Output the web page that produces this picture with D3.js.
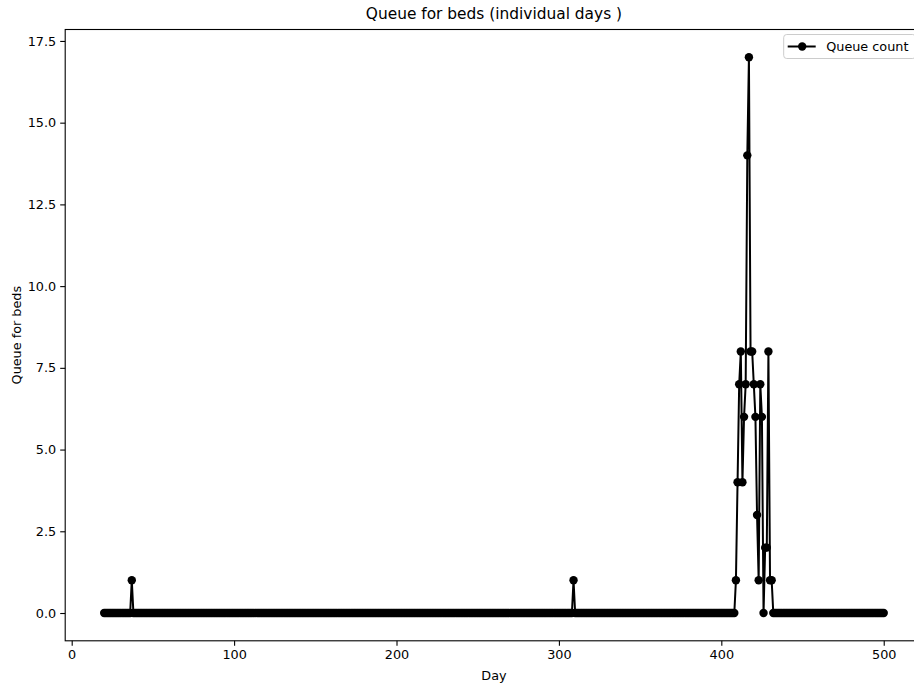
<!DOCTYPE html>
<html>
<head>
<meta charset="utf-8">
<script src="https://cdn.jsdelivr.net/npm/d3@7"></script>
<style>
	body { margin: 0; background: #fff; }
	text { font-family: "DejaVu Sans", sans-serif; fill: #000; }
</style>
</head>
<body>
<svg id="chart"></svg>
<script>
// queue count per day, first value is day 20, last is day 500
var firstDay = 20;
var queueCount = [
	0,0,0,0,0,0,0,0,0,0,0,0,0,0,0,0,0,1,0,0, // 20
	0,0,0,0,0,0,0,0,0,0,0,0,0,0,0,0,0,0,0,0, // 40
	0,0,0,0,0,0,0,0,0,0,0,0,0,0,0,0,0,0,0,0, // 60
	0,0,0,0,0,0,0,0,0,0,0,0,0,0,0,0,0,0,0,0, // 80
	0,0,0,0,0,0,0,0,0,0,0,0,0,0,0,0,0,0,0,0, // 100
	0,0,0,0,0,0,0,0,0,0,0,0,0,0,0,0,0,0,0,0, // 120
	0,0,0,0,0,0,0,0,0,0,0,0,0,0,0,0,0,0,0,0, // 140
	0,0,0,0,0,0,0,0,0,0,0,0,0,0,0,0,0,0,0,0, // 160
	0,0,0,0,0,0,0,0,0,0,0,0,0,0,0,0,0,0,0,0, // 180
	0,0,0,0,0,0,0,0,0,0,0,0,0,0,0,0,0,0,0,0, // 200
	0,0,0,0,0,0,0,0,0,0,0,0,0,0,0,0,0,0,0,0, // 220
	0,0,0,0,0,0,0,0,0,0,0,0,0,0,0,0,0,0,0,0, // 240
	0,0,0,0,0,0,0,0,0,0,0,0,0,0,0,0,0,0,0,0, // 260
	0,0,0,0,0,0,0,0,0,0,0,0,0,0,0,0,0,0,0,0, // 280
	0,0,0,0,0,0,0,0,0,1,0,0,0,0,0,0,0,0,0,0, // 300
	0,0,0,0,0,0,0,0,0,0,0,0,0,0,0,0,0,0,0,0, // 320
	0,0,0,0,0,0,0,0,0,0,0,0,0,0,0,0,0,0,0,0, // 340
	0,0,0,0,0,0,0,0,0,0,0,0,0,0,0,0,0,0,0,0, // 360
	0,0,0,0,0,0,0,0,0,0,0,0,0,0,0,0,0,0,0,0, // 380
	0,0,0,0,0,0,0,0,0,1,4,7,8,4,6,7,14,17,8,8, // 400
	7,6,3,1,7,6,0,2,2,8,1,1,0,0,0,0,0,0,0,0, // 420
	0,0,0,0,0,0,0,0,0,0,0,0,0,0,0,0,0,0,0,0, // 440
	0,0,0,0,0,0,0,0,0,0,0,0,0,0,0,0,0,0,0,0, // 460
	0,0,0,0,0,0,0,0,0,0,0,0,0,0,0,0,0,0,0,0, // 480
	0 // 500
];
var xTicks = [0, 100, 200, 300, 400, 500];
var yTicks = [0, 2.5, 5, 7.5, 10, 12.5, 15, 17.5];
var title = "Queue for beds (individual days )",
	xTitle = "Day",
	yTitle = "Queue for beds",
	seriesName = "Queue count";

var W = 914, H = 683,
	margin = {top: 29.5, left: 65.2},
	width = 857.5,
	height = 611.3,
	fontSize = 12.8;

var data = queueCount.map(function(v, i) { return {day: firstDay + i, count: v}; });

// matplotlib style 5% padding on both axes
var xExt = d3.extent(data, function(d) { return d.day; }),
	yExt = d3.extent(data, function(d) { return d.count; }),
	xPad = (xExt[1] - xExt[0]) * 0.05,
	yPad = (yExt[1] - yExt[0]) * 0.05;

var x = d3.scaleLinear().domain([xExt[0] - xPad, xExt[1] + xPad]).range([0, width]);
var y = d3.scaleLinear().domain([yExt[0] - yPad, yExt[1] + yPad]).range([height, 0]);

var svg = d3.select("#chart")
	.attr("width", W)
	.attr("height", H);

var g = svg.append("g")
	.attr("transform", "translate(" + margin.left + "," + margin.top + ")");

var line = d3.line()
	.x(function(d) { return x(d.day); })
	.y(function(d) { return y(d.count); });

g.append("path")
	.datum(data)
	.attr("fill", "none")
	.attr("stroke", "#000")
	.attr("stroke-width", 2)
	.attr("stroke-linejoin", "round")
	.attr("d", line);

g.append("g")
	.selectAll("circle")
	.data(data)
	.enter()
	.append("circle")
	.attr("cx", function(d) { return x(d.day); })
	.attr("cy", function(d) { return y(d.count); })
	.attr("r", 4.2)
	.attr("fill", "#000");

// axes
var xAxis = g.append("g")
	.attr("transform", "translate(0," + height + ")")
	.call(d3.axisBottom(x).tickValues(xTicks).tickSize(5).tickPadding(4).tickFormat(d3.format("d")));
var yAxis = g.append("g")
	.call(d3.axisLeft(y).tickValues(yTicks).tickSize(5).tickPadding(4).tickFormat(d3.format(".1f")));

[xAxis, yAxis].forEach(function(a) {
	a.select(".domain").remove();
	a.selectAll("line").attr("stroke", "#000").attr("stroke-width", 1.1);
	a.selectAll("text").attr("fill", "#000").style("font-size", fontSize + "px").style("font-family", "DejaVu Sans");
});

// frame
g.append("rect")
	.attr("x", 0)
	.attr("y", 0)
	.attr("width", width)
	.attr("height", height)
	.attr("fill", "none")
	.attr("stroke", "#000")
	.attr("stroke-width", 1.1);

svg.append("text")
	.attr("x", margin.left + width / 2)
	.attr("y", 18.5)
	.attr("text-anchor", "middle")
	.style("font-size", "15.4px")
	.text(title);

svg.append("text")
	.attr("x", margin.left + width / 2)
	.attr("y", 680)
	.attr("text-anchor", "middle")
	.style("font-size", fontSize + "px")
	.text(xTitle);

svg.append("text")
	.attr("transform", "translate(20.5," + (margin.top + height / 2) + ") rotate(-90)")
	.attr("text-anchor", "middle")
	.style("font-size", fontSize + "px")
	.text(yTitle);

// legend, upper right (its right side falls outside the picture)
var legend = svg.append("g")
	.attr("transform", "translate(" + (margin.left + width - 7 - 132) + "," + (margin.top + 5) + ")");

legend.append("rect")
	.attr("width", 132)
	.attr("height", 24)
	.attr("rx", 3)
	.attr("fill", "#fff")
	.attr("fill-opacity", 0.8)
	.attr("stroke", "#ccc");

legend.append("line")
	.attr("x1", 4)
	.attr("x2", 32)
	.attr("y1", 12)
	.attr("y2", 12)
	.attr("stroke", "#000")
	.attr("stroke-width", 2);

legend.append("circle")
	.attr("cx", 18.5)
	.attr("cy", 12)
	.attr("r", 4.2)
	.attr("fill", "#000");

legend.append("text")
	.attr("x", 42.5)
	.attr("y", 16.5)
	.style("font-size", fontSize + "px")
	.text(seriesName);
</script>
</body>
</html>
